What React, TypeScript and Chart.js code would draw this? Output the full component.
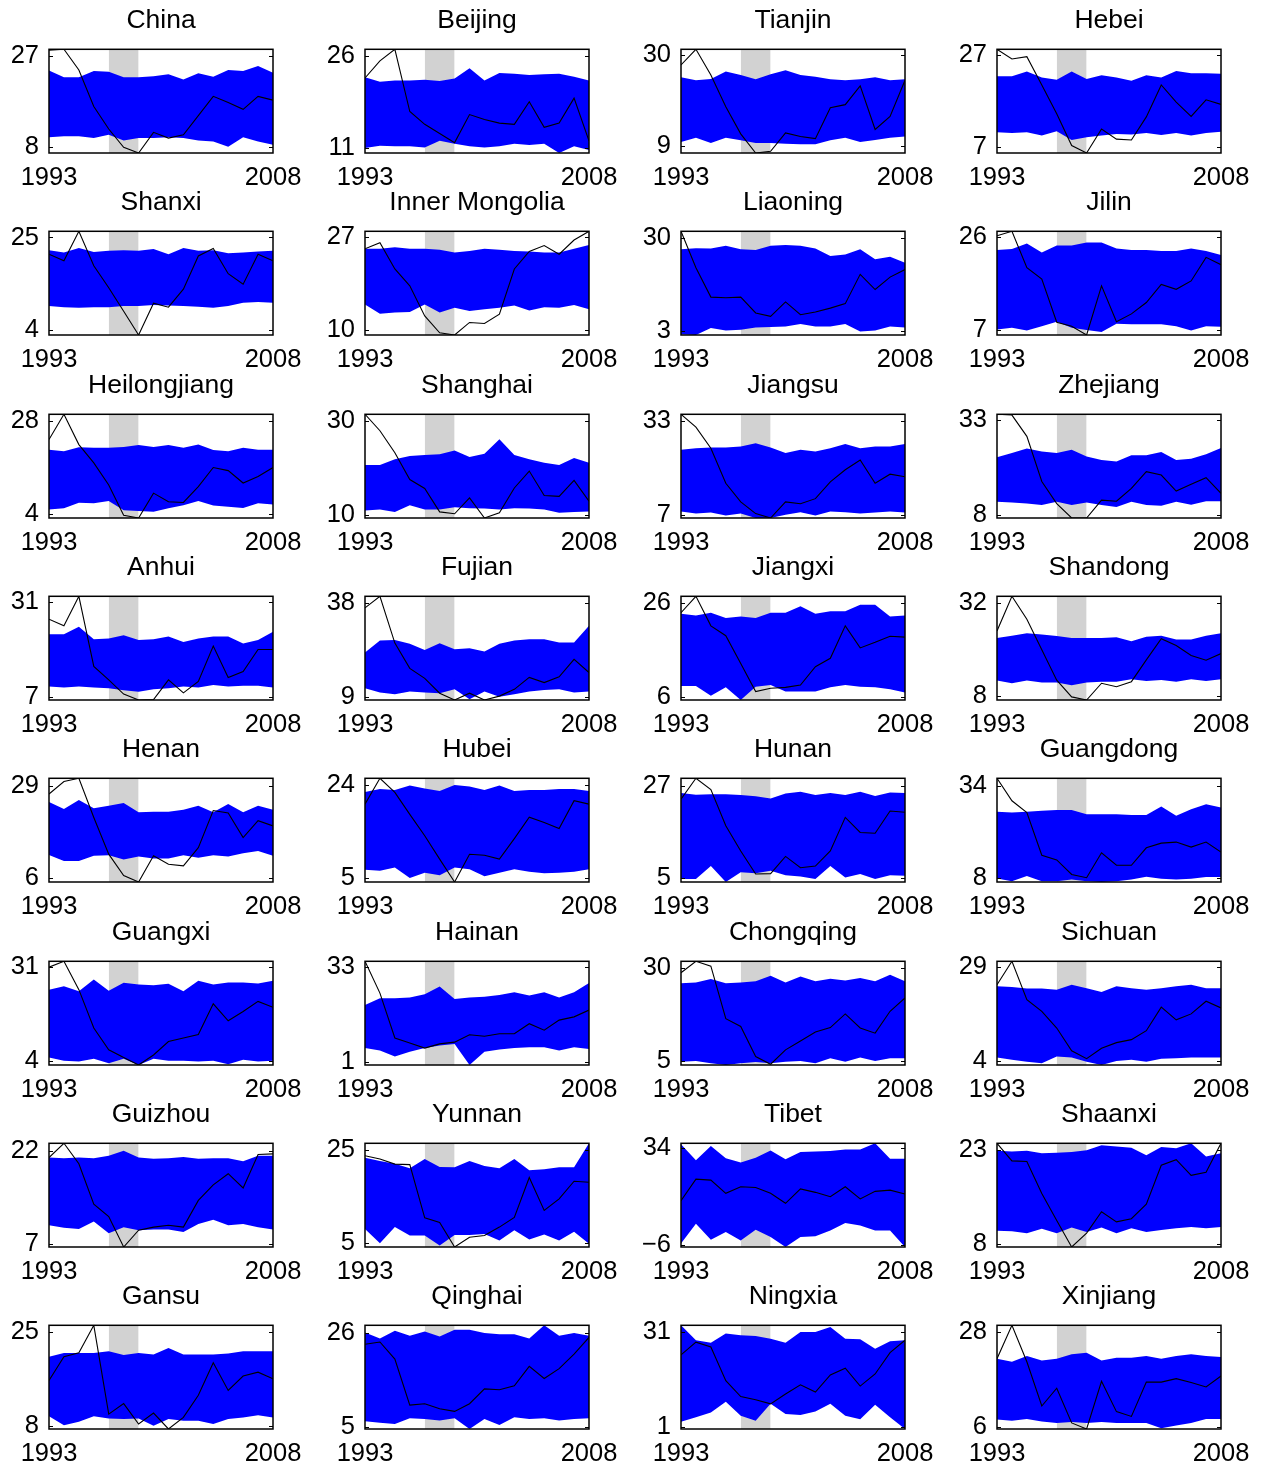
import React, { useEffect, useRef } from "react";
import { Chart, registerables } from "chart.js";

Chart.register(...registerables);

// Years on the horizontal axis
const years = [1993, 1994, 1995, 1996, 1997, 1998, 1999, 2000, 2001, 2002, 2003, 2004, 2005, 2006, 2007, 2008];

// Shaded period
const shadeFrom = 1997;
const shadeTo = 1999;

const regions = [
  "China", "Beijing", "Tianjin", "Hebei",
  "Shanxi", "Inner Mongolia", "Liaoning", "Jilin",
  "Heilongjiang", "Shanghai", "Jiangsu", "Zhejiang",
  "Anhui", "Fujian", "Jiangxi", "Shandong",
  "Henan", "Hubei", "Hunan", "Guangdong",
  "Guangxi", "Hainan", "Chongqing", "Sichuan",
  "Guizhou", "Yunnan", "Tibet", "Shaanxi",
  "Gansu", "Qinghai", "Ningxia", "Xinjiang",
];

// Labelled y ticks (low, high) for each region
const tickLow = [8, 11, 9, 7, 4, 10, 3, 7, 4, 10, 7, 8, 7, 9, 6, 8, 6, 5, 5, 8, 4, 1, 5, 4, 7, 5, -6, 8, 8, 5, 1, 6];
const tickHigh = [27, 26, 30, 27, 25, 27, 30, 26, 28, 30, 33, 33, 31, 38, 26, 32, 29, 24, 27, 34, 31, 33, 30, 29, 22, 25, 34, 23, 25, 26, 31, 28];

// Observed series
const actual: number[][] = [
  [28.2, 28.4, 24.1, 16.5, 11.8, 8.0, 6.8, 11.1, 9.9, 10.6, 14.6, 18.6, 17.3, 15.9, 18.6, 17.8], // China
  [22.4, 25.2, 27.1, 16.9, 14.8, 13.3, 11.8, 16.4, 15.6, 15.0, 14.8, 18.5, 14.3, 15.0, 19.1, 12.1], // Beijing
  [27.7, 31.3, 25.4, 18.1, 11.9, 7.5, 7.9, 12.1, 11.3, 10.8, 17.9, 18.6, 22.9, 12.9, 15.9, 24.2], // Tianjin
  [28.2, 26.1, 26.6, 20.5, 14.3, 7.4, 5.8, 11.0, 8.8, 8.6, 13.6, 20.5, 16.8, 13.7, 17.3, 16.3], // Hebei
  [21.2, 19.7, 26.4, 18.6, 13.6, 8.3, 2.9, 10.1, 9.2, 13.3, 20.8, 22.5, 16.8, 14.4, 21.2, 19.7], // Shanxi
  [24.9, 26.0, 21.2, 18.1, 12.6, 9.5, 9.1, 11.4, 11.2, 12.9, 21.2, 24.4, 25.5, 23.9, 26.5, 28.1], // Inner Mongolia
  [31.8, 21.2, 12.7, 12.5, 12.7, 8.1, 7.1, 11.3, 7.6, 8.4, 9.5, 10.8, 19.3, 14.9, 18.5, 20.7], // Liaoning
  [26.2, 27.1, 19.7, 17.4, 8.6, 7.8, 6.0, 16.0, 8.7, 10.3, 12.6, 16.3, 15.3, 17.0, 21.8, 20.3], // Jilin
  [23.2, 29.7, 21.9, 17.2, 11.5, 3.7, 3.0, 9.4, 7.2, 7.0, 11.1, 16.0, 15.2, 12.0, 13.7, 16.0], // Heilongjiang
  [31.4, 27.9, 23.2, 17.5, 15.6, 10.6, 10.2, 13.6, 9.3, 10.4, 15.7, 19.3, 14.1, 13.9, 17.3, 12.9], // Shanghai
  [34.7, 31.2, 25.4, 15.8, 10.7, 7.5, 6.3, 10.7, 10.2, 11.6, 16.2, 19.5, 22.2, 15.8, 18.3, 17.6], // Jiangsu
  [34.6, 34.4, 28.8, 16.9, 11.1, 7.3, 7.3, 12.0, 11.7, 15.1, 19.5, 18.6, 14.4, 16.2, 17.9, 13.8], // Zhejiang
  [26.7, 25.0, 32.5, 14.7, 11.3, 7.7, 6.2, 6.3, 11.3, 8.0, 10.9, 19.9, 11.9, 13.4, 19.0, 19.0], // Anhui
  [36.5, 40.1, 25.6, 17.8, 14.7, 10.1, 8.0, 10.1, 8.0, 9.2, 11.3, 15.0, 13.4, 15.2, 20.6, 16.5], // Fujian
  [23.9, 27.4, 21.1, 19.0, 13.1, 7.1, 7.8, 8.0, 8.5, 12.4, 14.2, 21.1, 16.4, 17.6, 18.9, 18.7], // Jiangxi
  [24.7, 33.6, 27.7, 19.9, 12.1, 7.8, 7.0, 11.3, 10.4, 11.7, 17.3, 22.7, 21.0, 18.4, 17.2, 18.9], // Shandong
  [26.9, 30.0, 30.8, 21.1, 12.0, 6.7, 5.1, 11.6, 9.5, 9.1, 13.6, 22.8, 22.2, 16.1, 20.3, 19.0], // Henan
  [20.1, 25.4, 22.5, 18.0, 13.6, 8.8, 4.1, 9.8, 9.6, 8.8, 13.0, 17.4, 16.3, 15.1, 20.8, 20.1], // Hubei
  [23.8, 28.8, 26.1, 17.5, 11.5, 6.0, 6.1, 10.2, 7.5, 7.9, 11.5, 19.5, 15.9, 15.7, 21.0, 20.7], // Hunan
  [36.1, 29.8, 26.5, 14.5, 13.2, 9.1, 8.2, 15.2, 11.7, 11.7, 16.6, 17.9, 18.2, 16.8, 18.2, 15.4], // Guangdong
  [31.0, 32.7, 24.5, 13.4, 7.1, 4.9, 2.7, 5.6, 9.5, 10.5, 11.5, 20.4, 15.5, 18.2, 21.1, 19.4], // Guangxi
  [35.0, 24.3, 9.2, 7.5, 5.8, 7.2, 7.8, 10.3, 9.8, 10.6, 10.6, 14.0, 11.8, 15.2, 16.3, 18.6], // Hainan
  [28.7, 31.8, 30.5, 16.3, 14.2, 6.1, 4.0, 7.9, 10.3, 12.7, 13.9, 17.6, 13.8, 12.4, 18.3, 21.9], // Chongqing
  [24.3, 30.6, 20.3, 17.2, 12.7, 6.6, 4.5, 7.3, 8.8, 9.6, 12.0, 18.3, 14.9, 16.5, 19.9, 18.1], // Sichuan
  [20.9, 23.2, 19.9, 13.4, 11.4, 6.5, 9.2, 9.7, 10.0, 9.7, 14.0, 16.5, 18.3, 16.0, 21.4, 21.5], // Guizhou
  [23.8, 23.1, 22.0, 21.9, 10.4, 9.4, 4.1, 6.2, 6.6, 8.4, 10.5, 19.1, 12.0, 14.5, 18.3, 18.1], // Yunnan
  [12.3, 21.1, 20.7, 15.3, 18.0, 17.7, 15.3, 11.2, 17.1, 15.7, 13.9, 18.0, 13.0, 16.1, 16.6, 15.0], // Tibet
  [24.0, 21.2, 21.1, 16.0, 11.7, 7.5, 9.7, 13.1, 11.5, 12.0, 14.3, 20.5, 21.4, 18.9, 19.4, 24.0], // Shaanxi
  [16.2, 20.5, 21.2, 26.2, 10.1, 12.0, 8.3, 10.3, 7.4, 9.5, 13.5, 19.4, 14.4, 17.0, 17.7, 16.5], // Gansu
  [23.4, 23.9, 20.1, 9.9, 10.2, 9.1, 8.5, 10.2, 13.5, 13.3, 14.2, 18.5, 15.8, 18.0, 21.2, 24.9], // Qinghai
  [23.8, 27.8, 26.3, 15.7, 10.7, 9.7, 8.4, 11.5, 14.4, 12.1, 17.5, 19.6, 14.0, 17.8, 24.5, 28.4], // Ningxia
  [21.8, 29.5, 21.1, 10.9, 15.0, 7.0, 5.6, 16.6, 9.6, 8.5, 16.4, 16.4, 17.2, 16.3, 15.3, 17.8], // Xinjiang
];

// Upper edge of the band
const upperBand: number[][] = [
  [24.0, 22.6, 22.6, 23.9, 23.7, 22.6, 22.6, 22.8, 23.2, 22.1, 23.4, 22.7, 24.1, 23.9, 24.9, 23.5],
  [22.5, 21.8, 22.0, 22.0, 22.1, 21.9, 22.3, 24.0, 22.0, 23.2, 23.1, 22.9, 23.0, 23.1, 22.6, 22.0],
  [24.9, 24.2, 24.5, 26.2, 25.4, 24.4, 25.6, 26.5, 25.4, 25.0, 24.4, 24.2, 24.4, 24.9, 24.2, 24.4],
  [22.4, 22.4, 23.4, 22.1, 21.6, 23.4, 21.8, 22.6, 22.1, 21.4, 22.6, 22.1, 23.5, 23.0, 23.0, 22.9],
  [22.1, 21.6, 22.6, 21.7, 22.0, 22.1, 22.0, 22.4, 21.2, 22.6, 22.0, 22.1, 21.4, 21.6, 21.8, 22.0],
  [24.9, 24.9, 25.2, 24.9, 24.9, 24.7, 24.2, 24.5, 24.9, 24.7, 24.5, 24.4, 24.2, 24.2, 24.9, 25.6],
  [26.6, 26.9, 26.8, 27.6, 26.6, 26.4, 27.6, 27.8, 27.6, 26.8, 24.6, 25.1, 26.6, 23.7, 24.4, 22.7],
  [23.3, 23.5, 24.6, 22.8, 24.2, 24.2, 24.8, 24.8, 23.6, 23.3, 23.3, 23.1, 23.1, 23.6, 23.1, 22.3],
  [20.6, 20.2, 21.2, 21.1, 21.1, 21.3, 21.8, 21.3, 21.8, 21.1, 21.9, 20.5, 20.2, 21.1, 20.6, 20.6],
  [20.6, 20.6, 21.8, 22.5, 22.7, 22.9, 23.7, 22.3, 23.0, 26.1, 22.7, 21.8, 21.1, 20.6, 22.1, 21.1],
  [25.0, 25.4, 25.6, 25.6, 25.9, 26.8, 25.6, 24.1, 25.0, 24.5, 25.4, 26.6, 25.4, 25.9, 25.9, 26.6],
  [23.3, 24.4, 25.6, 24.8, 24.4, 25.3, 23.5, 22.6, 22.2, 23.8, 23.8, 24.7, 22.6, 22.9, 24.1, 25.7],
  [22.9, 22.9, 24.8, 21.6, 21.8, 22.6, 21.4, 21.6, 22.3, 20.9, 21.8, 22.3, 22.3, 20.5, 21.4, 23.5],
  [22.7, 26.4, 26.6, 25.4, 23.5, 25.6, 23.7, 24.0, 23.0, 25.4, 26.4, 26.8, 26.8, 25.8, 25.8, 31.0],
  [23.7, 23.3, 23.9, 22.8, 23.1, 22.8, 23.9, 23.9, 25.3, 23.7, 24.2, 24.2, 25.6, 25.6, 23.1, 23.3],
  [22.9, 23.5, 24.1, 23.8, 23.4, 22.9, 22.9, 22.9, 23.1, 22.1, 23.2, 23.5, 22.5, 22.5, 23.5, 24.1],
  [24.9, 23.2, 25.4, 23.4, 24.0, 24.7, 22.4, 22.5, 22.5, 23.0, 24.0, 22.4, 24.4, 22.4, 24.0, 23.0],
  [22.6, 23.2, 23.0, 23.9, 23.3, 22.8, 24.0, 23.7, 23.0, 23.9, 22.8, 23.0, 23.0, 23.2, 23.2, 22.8],
  [25.3, 24.9, 25.0, 25.0, 24.8, 24.5, 24.0, 25.2, 25.6, 24.8, 25.3, 24.8, 25.6, 24.6, 25.4, 25.3],
  [26.7, 26.5, 26.7, 27.0, 27.2, 27.2, 26.0, 26.0, 26.0, 25.8, 25.8, 28.2, 25.6, 27.4, 28.8, 27.9],
  [24.5, 25.5, 24.0, 27.4, 24.2, 26.5, 26.0, 25.8, 26.2, 24.0, 27.1, 26.0, 26.6, 26.6, 26.3, 27.1],
  [20.3, 22.6, 22.6, 22.8, 23.9, 26.5, 22.3, 22.8, 23.1, 23.7, 24.6, 23.5, 24.6, 22.8, 24.6, 27.7],
  [25.9, 26.1, 27.0, 25.9, 26.1, 26.4, 27.9, 26.1, 27.7, 26.4, 27.1, 26.6, 27.3, 26.4, 28.2, 26.4],
  [23.9, 23.7, 23.3, 23.3, 23.0, 24.3, 23.4, 22.4, 23.9, 23.4, 23.0, 23.4, 23.9, 24.3, 23.4, 23.4],
  [20.9, 20.8, 20.9, 20.8, 21.2, 22.0, 20.9, 20.7, 20.8, 21.0, 20.7, 20.8, 20.8, 20.3, 21.2, 21.2],
  [23.4, 22.7, 22.1, 21.1, 23.1, 21.4, 21.3, 22.7, 21.6, 21.1, 23.1, 20.7, 20.9, 21.3, 21.3, 26.5],
  [35.4, 28.9, 34.7, 29.7, 27.9, 29.9, 32.9, 29.3, 32.2, 32.4, 32.6, 33.3, 33.3, 35.8, 29.5, 29.5],
  [22.8, 22.7, 22.8, 22.4, 22.5, 22.6, 22.9, 23.7, 23.5, 23.3, 22.1, 23.4, 23.2, 24.0, 21.9, 22.4],
  [20.5, 21.2, 21.2, 21.2, 21.5, 20.8, 21.2, 20.9, 22.1, 20.9, 20.9, 20.9, 21.1, 21.5, 21.5, 21.5],
  [26.0, 24.7, 26.4, 25.3, 26.2, 25.1, 26.6, 26.6, 25.9, 25.6, 25.6, 24.7, 27.6, 25.3, 25.9, 25.3],
  [33.1, 28.4, 27.6, 30.5, 30.0, 29.7, 28.9, 27.6, 31.0, 31.0, 32.6, 28.9, 28.7, 25.7, 28.1, 28.4],
  [21.8, 21.1, 22.4, 21.4, 21.8, 22.8, 23.2, 21.4, 22.0, 22.0, 22.4, 21.8, 22.4, 22.8, 22.4, 22.2],
];

// Lower edge of the band
const lowerBand: number[][] = [
  [10.1, 10.3, 10.3, 9.9, 10.6, 9.4, 9.9, 9.9, 10.1, 9.9, 9.4, 9.2, 8.1, 10.1, 9.2, 8.5],
  [10.9, 11.3, 11.2, 11.2, 11.0, 12.1, 11.6, 11.2, 11.0, 11.2, 11.6, 11.4, 11.6, 10.1, 11.2, 10.6],
  [10.0, 11.0, 9.8, 11.0, 10.4, 9.8, 9.8, 9.6, 9.5, 9.5, 10.4, 11.0, 10.0, 10.5, 11.0, 11.3],
  [10.3, 10.1, 10.3, 9.6, 10.5, 8.6, 9.2, 9.6, 9.9, 9.8, 10.1, 9.7, 10.1, 9.6, 10.1, 10.4],
  [9.5, 9.2, 9.1, 9.2, 9.2, 9.5, 9.5, 9.7, 9.6, 9.5, 9.3, 9.1, 9.5, 10.2, 10.4, 10.2],
  [14.7, 13.0, 13.2, 13.3, 14.7, 13.2, 14.1, 13.5, 13.8, 14.1, 14.5, 13.6, 14.2, 14.1, 14.6, 13.8],
  [1.9, 1.7, 3.7, 3.0, 3.2, 3.9, 4.0, 4.2, 4.9, 4.2, 4.2, 4.9, 2.7, 3.0, 4.2, 3.9],
  [7.1, 7.5, 6.9, 7.8, 8.7, 7.5, 7.0, 6.6, 8.3, 8.2, 8.2, 8.2, 7.8, 6.9, 7.8, 7.7],
  [5.2, 5.5, 6.9, 6.8, 7.4, 5.0, 4.8, 4.6, 5.5, 6.3, 7.4, 6.2, 5.9, 5.6, 6.8, 6.5],
  [10.9, 11.1, 10.6, 12.0, 11.1, 11.1, 11.6, 11.4, 11.3, 11.1, 11.4, 11.3, 11.1, 10.4, 10.6, 10.7],
  [8.1, 7.5, 7.8, 7.0, 7.5, 6.3, 6.3, 7.2, 7.9, 7.0, 8.1, 7.9, 7.5, 7.8, 8.1, 7.8],
  [11.6, 11.4, 11.1, 10.7, 11.6, 10.7, 11.4, 10.7, 10.2, 11.6, 10.7, 10.5, 11.6, 10.8, 11.7, 11.7],
  [9.6, 9.4, 9.6, 9.4, 9.2, 8.7, 8.3, 8.9, 9.2, 9.6, 9.4, 10.0, 9.6, 9.8, 9.8, 9.4],
  [11.6, 10.3, 9.8, 10.6, 10.3, 10.1, 11.3, 8.2, 10.6, 9.0, 9.8, 10.6, 11.1, 11.3, 10.3, 10.6],
  [8.3, 8.3, 6.2, 8.0, 5.3, 8.1, 8.5, 7.1, 7.1, 7.1, 8.0, 8.5, 8.1, 8.0, 7.6, 6.9],
  [12.0, 11.3, 12.0, 11.5, 11.5, 10.8, 11.5, 11.7, 11.7, 12.3, 11.9, 12.1, 11.7, 12.3, 11.9, 12.3],
  [11.8, 10.3, 10.3, 11.6, 11.7, 10.7, 11.4, 10.9, 10.9, 11.7, 11.1, 11.7, 11.4, 12.2, 12.8, 11.6],
  [6.6, 6.4, 7.1, 4.9, 6.0, 5.5, 7.1, 6.7, 5.3, 6.0, 6.7, 6.2, 5.9, 6.0, 6.2, 6.7],
  [4.8, 4.8, 7.9, 4.1, 6.4, 6.2, 6.8, 5.7, 5.4, 4.8, 7.9, 5.2, 6.0, 4.8, 5.7, 5.6],
  [8.0, 7.2, 8.7, 7.2, 7.2, 7.7, 7.2, 7.0, 7.2, 7.7, 8.5, 7.9, 7.7, 7.9, 8.4, 8.4],
  [4.9, 3.9, 3.7, 4.5, 3.2, 4.5, 2.7, 4.5, 3.9, 3.9, 3.7, 3.9, 2.9, 4.2, 3.7, 3.9],
  [5.8, 5.0, 3.0, 4.6, 5.8, 6.7, 7.2, 0.1, 4.6, 5.3, 5.8, 6.1, 6.1, 5.0, 6.1, 5.5],
  [4.7, 4.9, 4.3, 3.8, 4.3, 4.6, 4.3, 4.7, 4.9, 4.3, 5.6, 4.7, 5.8, 4.9, 5.6, 5.6],
  [4.8, 4.2, 3.7, 3.3, 5.1, 4.8, 3.7, 2.8, 3.9, 4.2, 3.7, 4.5, 4.6, 4.8, 4.8, 4.8],
  [10.0, 9.6, 9.4, 10.6, 8.7, 9.7, 9.2, 9.3, 9.3, 8.9, 10.2, 10.9, 10.0, 10.2, 9.7, 9.3],
  [8.0, 4.9, 8.4, 6.6, 6.6, 4.4, 6.7, 6.7, 6.9, 5.5, 7.7, 5.7, 6.8, 5.5, 7.4, 4.8],
  [-5.3, 2.8, -3.7, -0.6, -4.0, 0.4, -2.6, -6.7, -2.6, -2.3, 0.1, 3.1, 2.1, 0.1, 0.1, -6.7],
  [10.1, 10.0, 9.7, 10.4, 9.7, 10.6, 9.9, 10.6, 9.7, 10.5, 9.9, 10.2, 10.5, 10.7, 10.5, 10.7],
  [9.7, 8.1, 8.7, 9.7, 9.3, 9.2, 9.3, 8.0, 9.2, 8.9, 8.9, 8.3, 9.2, 9.5, 9.9, 9.5],
  [6.3, 6.0, 5.7, 7.0, 6.8, 6.5, 7.0, 4.6, 6.8, 5.5, 7.2, 6.8, 7.0, 6.5, 6.8, 7.0],
  [2.8, 4.2, 5.7, 9.1, 4.7, 3.1, 8.4, 5.2, 4.9, 6.0, 8.4, 4.7, 3.6, 8.1, 4.2, 0.5],
  [7.8, 7.5, 7.9, 7.3, 7.0, 7.2, 7.0, 7.2, 7.0, 7.0, 7.0, 5.8, 6.4, 7.0, 7.9, 7.9],
];

const FONT = '"Liberation Sans", Arial, Helvetica, sans-serif';
const COLS = 4;
const SIDE = 49; // room for the y labels, mirrored on the right so titles centre on the box
const CANVAS_W = 322;
const CANVAS_H = 200;
const PLOT_BOTTOM = 149;
const COL_STEP = 316;
const ROW_STEP = 182.35;

// Axes box with inward tick marks on both vertical sides
const framePlugin = {
  id: "frame",
  afterDatasetsDraw(chart: any) {
    const { ctx, chartArea: a, scales } = chart;
    const ys = scales.y;
    ctx.save();
    ctx.strokeStyle = "#000";
    ctx.lineWidth = 1.5;
    ctx.strokeRect(a.left, a.top, a.right - a.left, a.bottom - a.top);
    ctx.lineWidth = 1;
    ctx.beginPath();
    for (const t of ys.ticks) {
      const py = Math.round(ys.getPixelForValue(t.value)) + 0.5;
      ctx.moveTo(a.left, py);
      ctx.lineTo(a.left + 4, py);
      ctx.moveTo(a.right, py);
      ctx.lineTo(a.right - 4, py);
    }
    ctx.stroke();
    ctx.restore();
  },
};

function toPoints(values: number[]) {
  return values.map((v, i) => ({ x: years[i], y: v }));
}

function Panel({ index }: { index: number }) {
  const ref = useRef<HTMLCanvasElement>(null);

  useEffect(() => {
    const canvas = ref.current;
    if (!canvas) return;
    const line = actual[index];
    const up = upperBand[index];
    const low = lowerBand[index];
    const all = [...line, ...up, ...low];
    const yMin = Math.min(...all);
    const yMax = Math.max(...all);
    const lo = tickLow[index];
    const hi = tickHigh[index];

    const chart = new Chart(canvas, {
      type: "line",
      data: {
        datasets: [
          {
            // shaded period, filled down to the axis start
            data: [
              { x: shadeFrom, y: yMax },
              { x: shadeTo, y: yMax },
            ],
            backgroundColor: "#d2d2d2",
            borderWidth: 0,
            pointRadius: 0,
            fill: "start",
            order: 3,
          },
          {
            data: toPoints(low),
            borderWidth: 0,
            pointRadius: 0,
            fill: false,
            order: 2,
          },
          {
            data: toPoints(up),
            borderWidth: 0,
            pointRadius: 0,
            backgroundColor: "#0000ff",
            fill: 1,
            order: 1,
          },
          {
            data: toPoints(line),
            borderColor: "#000000",
            borderWidth: 1.1,
            pointRadius: 0,
            fill: false,
            order: 0,
          },
        ],
      },
      options: {
        responsive: false,
        animation: false,
        devicePixelRatio: 1,
        events: [],
        elements: { line: { tension: 0 } },
        layout: { padding: 0 },
        plugins: {
          legend: { display: false },
          tooltip: { enabled: false },
          title: {
            display: true,
            text: regions[index],
            color: "#000",
            font: { family: FONT, size: 26.5, weight: "normal", lineHeight: 1.2 },
            padding: { top: 0.3, bottom: 13.2 },
          },
        },
        scales: {
          x: {
            type: "linear",
            min: years[0],
            max: years[years.length - 1],
            grid: { display: false, drawTicks: false },
            border: { display: false },
            afterBuildTicks: (s: any) => {
              s.ticks = [{ value: years[0] }, { value: years[years.length - 1] }];
            },
            afterFit: (s: any) => {
              s.height = CANVAS_H - PLOT_BOTTOM;
            },
            ticks: {
              color: "#000",
              padding: 10,
              autoSkip: false,
              maxRotation: 0,
              font: { family: FONT, size: 25.5, lineHeight: 1.2 },
              callback: (v: any) => String(v),
            },
          },
          y: {
            type: "linear",
            position: "left",
            min: yMin,
            max: yMax,
            grid: { display: false, drawTicks: false },
            border: { display: false },
            afterBuildTicks: (s: any) => {
              s.ticks = [{ value: lo }, { value: hi }];
            },
            afterFit: (s: any) => {
              s.width = SIDE;
            },
            ticks: {
              color: "#000",
              padding: 10,
              autoSkip: false,
              font: { family: FONT, size: 25.5, lineHeight: 1.2 },
              callback: (v: any) => (v < 0 ? "\u2212" + Math.abs(v) : String(v)),
            },
          },
          yRight: {
            type: "linear",
            position: "right",
            grid: { display: false, drawTicks: false },
            border: { display: false },
            ticks: { display: false },
            afterFit: (s: any) => {
              s.width = SIDE;
            },
          },
        },
      },
      plugins: [framePlugin],
    } as any);

    return () => chart.destroy();
  }, [index]);

  const col = index % COLS;
  const row = Math.floor(index / COLS);
  return (
    <canvas
      ref={ref}
      width={CANVAS_W}
      height={CANVAS_H}
      style={{
        position: "absolute",
        left: col * COL_STEP,
        top: Math.round(4 + row * ROW_STEP),
        width: CANVAS_W,
        height: CANVAS_H,
      }}
    />
  );
}

export default function App() {
  return (
    <div
      style={{
        position: "absolute",
        left: 0,
        top: 0,
        width: 1263,
        height: 1467,
        overflow: "hidden",
        background: "#fff",
      }}
    >
      {regions.map((_, i) => (
        <Panel key={regions[i]} index={i} />
      ))}
    </div>
  );
}
